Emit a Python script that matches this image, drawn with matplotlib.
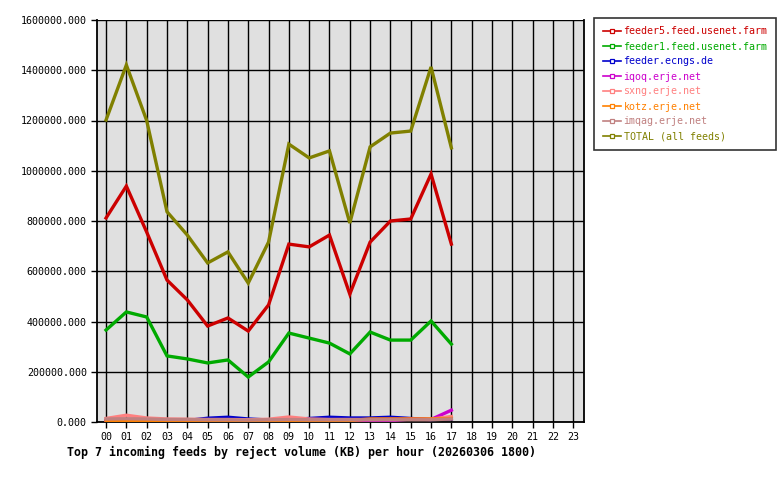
import matplotlib
matplotlib.use('Agg')
import matplotlib.pyplot as plt

# hours of the day and reject volume (KB) per feed
hours = list(range(24))
hour_labels = ['%02d' % h for h in hours]

feeder5 = [812000, 939000, 756000, 565000, 486000, 382000, 414000, 362000, 466000,
           708000, 697000, 744000, 509000, 716000, 800000, 808000, 987000, 708000]
feeder1 = [366000, 438000, 418000, 263000, 251000, 235000, 247000, 179000, 239000,
           354000, 334000, 314000, 271000, 358000, 326000, 326000, 402000, 310000]
ecngs = [5000, 8000, 6000, 5000, 6000, 15000, 19000, 12000, 8000,
         10000, 14000, 19000, 16000, 16000, 19000, 14000, 10000, 12000]
iqoq = [3000, 3000, 2000, 2000, 2000, 3000, 3000, 2000, 3000,
        3000, 4000, 4000, 4000, 5000, 5000, 12000, 10000, 47000]
sxng = [14000, 27000, 16000, 12000, 11000, 10000, 10000, 9000, 11000,
        20000, 12000, 10000, 10000, 10000, 11000, 11000, 11000, 22000]
kotz = [4000, 3000, 3000, 2000, 2000, 2000, 2000, 2000, 3000,
        3000, 4000, 5000, 6000, 12000, 12000, 12000, 12000, 14000]
imqag = [12000, 13000, 12000, 10000, 10000, 9000, 9000, 8000, 9000,
         10000, 9000, 9000, 9000, 9000, 9000, 9000, 9000, 12000]
total = [1202000, 1421000, 1200000, 837000, 744000, 633000, 677000, 553000, 716000,
         1106000, 1051000, 1079000, 792000, 1095000, 1150000, 1158000, 1413000, 1091000]

series = [
    ('feeder5.feed.usenet.farm', feeder5, '#cc0000'),
    ('feeder1.feed.usenet.farm', feeder1, '#00aa00'),
    ('feeder.ecngs.de', ecngs, '#0000cc'),
    ('iqoq.erje.net', iqoq, '#cc00cc'),
    ('sxng.erje.net', sxng, '#ff8080'),
    ('kotz.erje.net', kotz, '#ff8000'),
    ('imqag.erje.net', imqag, '#c08080'),
    ('TOTAL (all feeds)', total, '#808000'),
]

plt.rcParams['font.family'] = 'DejaVu Sans Mono'

fig = plt.figure(figsize=(7.8, 4.8), dpi=100)
ax = fig.add_axes([96.5 / 780, (480 - 422) / 480, (584 - 96.5) / 780, (422 - 20) / 480])
ax.set_facecolor('#e0e0e0')

handles = []
for name, vals, col in series:
    ax.plot(hours[:len(vals)], vals, color=col, linewidth=2.4, solid_joinstyle='miter',
            zorder=3)
    h, = ax.plot([], [], color=col, linewidth=1.2, marker='s', markersize=3,
                 markerfacecolor='white', markeredgecolor=col, markeredgewidth=0.9,
                 label=name)
    handles.append(h)

ax.set_xlim(-0.47, 23.53)
ax.set_ylim(0, 1600000)
ax.set_xticks(hours)
ax.set_xticklabels(hour_labels)
ax.set_yticks(range(0, 1600001, 200000))
ax.set_yticklabels(['%.3f' % v for v in range(0, 1600001, 200000)])
ax.grid(True, color='black', linewidth=1.0, zorder=1)
ax.set_axisbelow(True)
ax.tick_params(direction='out', length=4, width=1, labelsize=7.2, pad=3, colors='black')
for s in ['left', 'bottom', 'right']:
    ax.spines[s].set_linewidth(1.3)
ax.spines['top'].set_visible(False)

leg = fig.legend(handles=handles, loc='upper left', bbox_to_anchor=(594 / 780, 1 - 18 / 480),
                 frameon=True, fancybox=False, fontsize=7.2, labelcolor='linecolor',
                 handlelength=1.8, handletextpad=0.3, labelspacing=0.5, borderpad=0.85,
                 borderaxespad=0)
leg.get_frame().set_edgecolor('black')
leg.get_frame().set_linewidth(1.2)

fig.text(67 / 780, 1 - 452 / 480,
         'Top 7 incoming feeds by reject volume (KB) per hour (20260306 1800)',
         fontsize=8.4, fontweight='bold', ha='left', va='center')

fig.savefig('out.png', dpi=100)
